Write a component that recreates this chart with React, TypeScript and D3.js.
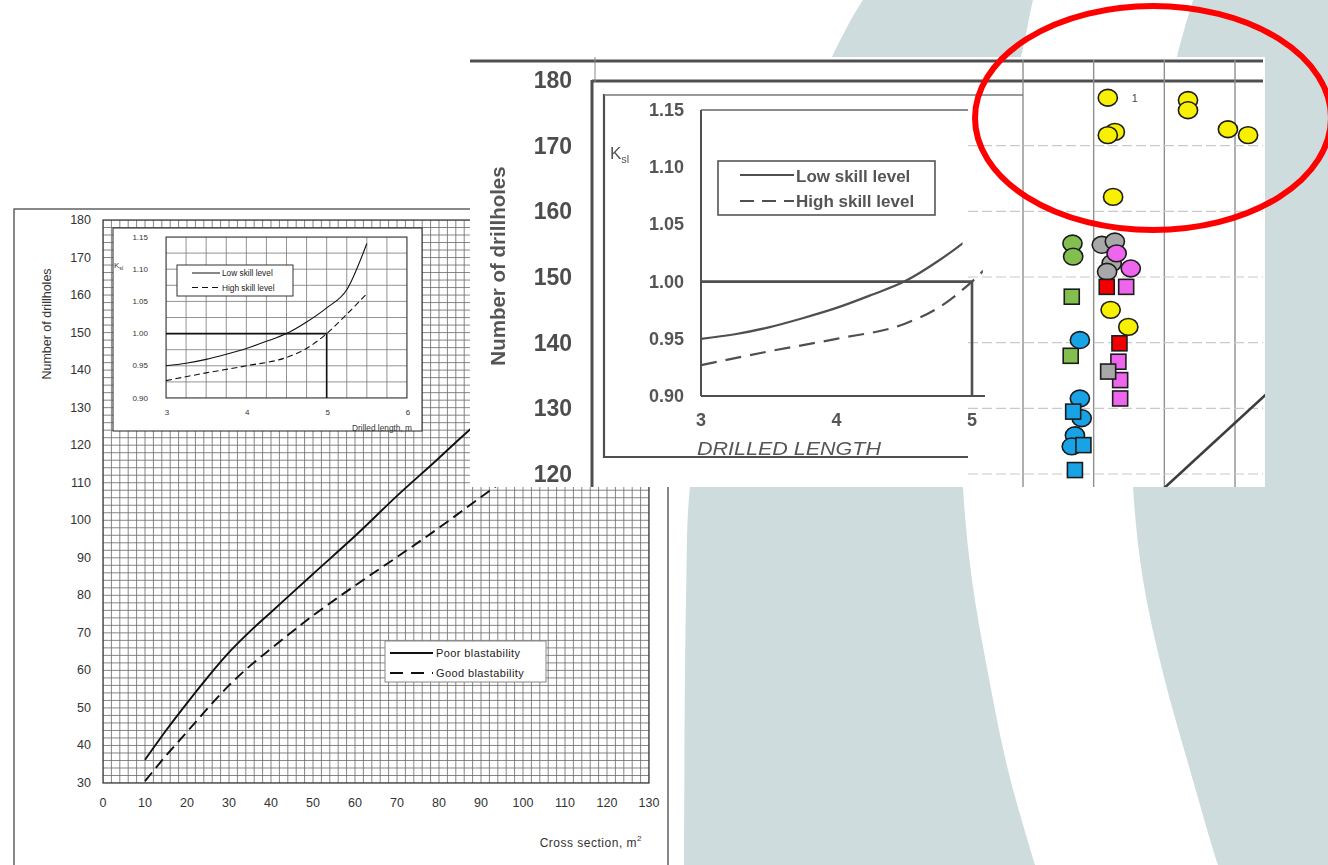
import React from "react";
import * as d3 from "d3";

const W = 1328;
const H = 865;
const FONT = "'Liberation Sans', Arial, Helvetica, sans-serif";
const BG = "#cedcdd";

// ---------- Main chart: number of drillholes vs cross section ----------
const poorX = [10, 15, 20, 25, 30, 35, 40, 50, 60, 70, 80, 85, 90];
const poorY = [36.2, 44, 51.3, 58.3, 64.8, 70.4, 75.5, 85.7, 95.8, 106.5, 116.6, 121.8, 126.8];
const goodX = [10, 15, 20, 25, 30, 35, 40, 50, 60, 70, 80, 90, 95];
const goodY = [30.5, 37.3, 43.6, 50, 56, 61.2, 65.8, 74.6, 82.6, 90.2, 98, 106.2, 110.2];
const mainXTicks = [0, 10, 20, 30, 40, 50, 60, 70, 80, 90, 100, 110, 120, 130];
const mainYTicks = [30, 40, 50, 60, 70, 80, 90, 100, 110, 120, 130, 140, 150, 160, 170, 180];
const mainLegend = ["Poor blastability", "Good blastability"];

// ---------- Inset: Ksl vs drilled length ----------
const lowX = [3, 3.25, 3.5, 3.75, 4, 4.25, 4.5, 4.75, 5, 5.25, 5.5];
const lowY = [0.95, 0.954, 0.96, 0.968, 0.977, 0.988, 1.0, 1.018, 1.04, 1.068, 1.14];
const highX = [3, 3.5, 4, 4.5, 4.75, 5, 5.25, 5.5];
const highY = [0.927, 0.939, 0.95, 0.963, 0.977, 1.0, 1.03, 1.062];
const insetXTicks = [3, 4, 5, 6];
const insetYTicks = [0.9, 0.95, 1.0, 1.05, 1.1, 1.15];
const insetLegend = ["Low skill level", "High skill level"];
const refLength = 5;
const refK = 1.0;

// ---------- Overlay (scanned detail) ----------
const ovYTicks = [120, 130, 140, 150, 160, 170, 180];
const ovXGrid = [70, 80, 90, 100];
const ovYGrid = [120, 130, 140, 150, 160, 170];
const ovInsetXTicks = [3, 4, 5];
const ovLineX = [88, 106];
const ovLineY = [115.9, 133.7];

const yellowCircles: [number, number][] = [
  [82.0, 177.3], [93.35, 176.95], [93.35, 175.4], [83.0, 172.1], [82.0, 171.6],
  [99.0, 172.5], [101.85, 171.6], [82.75, 162.2], [82.4, 145.0], [84.9, 142.4],
];
const greenCircles: [number, number][] = [[77.0, 155.1], [77.1, 153.1]];
const greenSquares: [number, number][] = [[76.9, 147.0], [76.75, 138.0]];
const grayCircles: [number, number][] = [[81.15, 154.9], [83.0, 155.4], [82.55, 152.1], [81.9, 150.8]];
const pinkCircles: [number, number][] = [[83.25, 153.6], [85.25, 151.3]];
const pinkSquares: [number, number][] = [[84.6, 148.5], [83.5, 137.1], [83.75, 134.3], [83.75, 131.5]];
const redSquares: [number, number][] = [[81.85, 148.5], [83.65, 139.9]];
const graySquares: [number, number][] = [[82.05, 135.6]];
const blueCircles: [number, number][] = [[78.05, 140.4], [78.05, 131.5], [78.3, 128.5], [77.35, 125.9], [76.9, 124.2]];
const blueSquares: [number, number][] = [[77.1, 129.5], [78.55, 124.4], [77.35, 120.6]];

// ---------- scales ----------
const xM = d3.scaleLinear().domain([0, 130]).range([103, 649]);
const yM = d3.scaleLinear().domain([30, 180]).range([783, 220]);
const xI = d3.scaleLinear().domain([3, 6]).range([166, 407]);
const yI = d3.scaleLinear().domain([0.9, 1.15]).range([398, 237]);
const xO = d3.scaleLinear().domain([70, 100]).range([1023, 1235]);
const yO = d3.scaleLinear().domain([120, 180]).range([474, 80]);
const xOI = d3.scaleLinear().domain([3, 5]).range([701, 972]);
const yOI = d3.scaleLinear().domain([0.9, 1.15]).range([396, 110]);

function curve(xs: number[], ys: number[], sx: any, sy: any, c: any = d3.curveMonotoneX) {
  return d3
    .line<number>()
    .x((_, i) => sx(xs[i]))
    .y((_, i) => sy(ys[i]))
    .curve(c)(xs) as string;
}

// background decorative bands
const edgeA: [number, number][] = [[872, -10], [863, 0], [832, 57], [790, 160], [738, 290], [704, 410], [690, 487], [686, 600], [684, 875]];
const edgeBandL: [number, number][] = [[1036, -10], [1033, 0], [1021, 57], [990, 170], [968, 300], [962, 410], [963, 487], [972, 580], [988, 673], [1008, 770], [1035, 865], [1038, 875]];
const edgeBandR: [number, number][] = [[1196, -10], [1193, 0], [1177, 57], [1155, 170], [1138, 300], [1132, 410], [1133, 487], [1143, 580], [1163, 673], [1190, 770], [1218, 865], [1222, 875]];
const lg = d3.line().curve(d3.curveCatmullRom.alpha(0.5));
const bgA = (lg(edgeA) as string) + (lg([...edgeBandL].reverse()) as string).replace(/^M/, "L") + "Z";
const bgB = (lg(edgeBandR) as string) + "L1340,875L1340,-10Z";

function Markers({ pts, shape, fill }: { pts: [number, number][]; shape: "c" | "s"; fill: string }) {
  return (
    <g>
      {pts.map((p, i) =>
        shape === "c" ? (
          <ellipse key={i} cx={xO(p[0])} cy={yO(p[1])} rx={9.6} ry={8.4} fill={fill} stroke="#1c1c1c" strokeWidth={1.6} />
        ) : (
          <rect key={i} x={xO(p[0]) - 7.5} y={yO(p[1]) - 7.5} width={15} height={15} fill={fill} stroke="#1c1c1c" strokeWidth={1.6} />
        )
      )}
    </g>
  );
}

export default function App() {
  const gridX = d3.range(0, 130.001, 2);
  const gridY = d3.range(30, 180.001, 2);
  const iGridX = d3.range(3, 6.0001, 0.25);
  const iGridY = d3.range(0.9, 1.15001, 0.025);
  const OV = "#505050";

  return (
    <svg
      width={W}
      height={H}
      viewBox={`0 0 ${W} ${H}`}
      style={{ position: "fixed", left: 0, top: 0, display: "block" }}
      fontFamily={FONT}
    >
      <defs>
        <clipPath id="mainPlot">
          <rect x={103} y={220} width={546} height={563} />
        </clipPath>
        <clipPath id="insetPlot">
          <rect x={166} y={237} width={241} height={161} />
        </clipPath>
        <clipPath id="ovArea">
          <rect x={470} y={57} width={795} height={430} />
        </clipPath>
        <clipPath id="ovSolid">
          <rect x={701} y={100} width={xOI(4.93) - 701} height={300} />
        </clipPath>
        <clipPath id="ovDash">
          <rect x={701} y={100} width={xOI(5.08) - 701} height={300} />
        </clipPath>
        <filter id="scan" x="-5%" y="-5%" width="110%" height="110%">
          <feGaussianBlur stdDeviation="0.55" />
        </filter>
      </defs>

      <rect width={W} height={H} fill="#ffffff" />
      <path d={bgA} fill={BG} />
      <path d={bgB} fill={BG} />

      {/* ================= Left chart ================= */}
      <rect x={14} y={209} width={654} height={700} fill="#fff" stroke="#3a3a3a" strokeWidth={1.2} />
      <g clipPath="url(#mainPlot)">
        {gridX.map((v) => (
          <line key={"gx" + v} x1={xM(v)} x2={xM(v)} y1={220} y2={783} stroke="#6f6f6f" strokeWidth={0.85} />
        ))}
        {gridY.map((v) => (
          <line key={"gy" + v} x1={103} x2={649} y1={yM(v)} y2={yM(v)} stroke="#6f6f6f" strokeWidth={0.85} />
        ))}
        <path d={curve(poorX, poorY, xM, yM)} fill="none" stroke="#111" strokeWidth={1.9} />
        <path d={curve(goodX, goodY, xM, yM)} fill="none" stroke="#111" strokeWidth={1.9} strokeDasharray="11,6" />
      </g>
      <rect x={103} y={220} width={546} height={563} fill="none" stroke="#333" strokeWidth={1.2} />

      {mainYTicks.map((v) => (
        <text key={"my" + v} x={91} y={yM(v)} textAnchor="end" dominantBaseline="central" fontSize={12.5} fill="#333">
          {v}
        </text>
      ))}
      {mainXTicks.map((v) => (
        <text key={"mx" + v} x={xM(v)} y={803} textAnchor="middle" dominantBaseline="central" fontSize={12.5} fill="#333">
          {v}
        </text>
      ))}
      <text transform="translate(47,324) rotate(-90)" textAnchor="middle" dominantBaseline="central" fontSize={12.5} fill="#333">
        Number of drillholes
      </text>
      <text x={642} y={847} textAnchor="end" fontSize={12} fill="#333" letterSpacing={0.5}>
        Cross section, m<tspan fontSize={8} dy={-6}>2</tspan>
      </text>

      {/* main legend */}
      <rect x={385} y={641} width={161} height={41} fill="#fff" stroke="#888" strokeWidth={1} />
      <line x1={390} x2={433} y1={653} y2={653} stroke="#111" strokeWidth={1.9} />
      <line x1={390} x2={433} y1={673} y2={673} stroke="#111" strokeWidth={1.9} strokeDasharray="13,8" />
      {mainLegend.map((t, i) => (
        <text key={t} x={436} y={653 + i * 20} dominantBaseline="central" fontSize={11} fill="#222" letterSpacing={0.4}>
          {t}
        </text>
      ))}

      {/* inset */}
      <rect x={113} y={228} width={309} height={203} fill="#fff" stroke="#222" strokeWidth={1} />
      <g clipPath="url(#insetPlot)">
        {iGridX.map((v, i) => (
          <line key={"igx" + i} x1={xI(v)} x2={xI(v)} y1={237} y2={398} stroke="#777" strokeWidth={0.8} />
        ))}
        {iGridY.map((v, i) => (
          <line key={"igy" + i} x1={166} x2={407} y1={yI(v)} y2={yI(v)} stroke="#777" strokeWidth={0.8} />
        ))}
      </g>
      <rect x={166} y={237} width={241} height={161} fill="none" stroke="#333" strokeWidth={1} />
      <path
        d={`M${xI(3)},${yI(refK)}H${xI(refLength)}V${yI(0.9)}`}
        fill="none"
        stroke="#111"
        strokeWidth={1.6}
      />
      <path d={curve(lowX, lowY, xI, yI)} fill="none" stroke="#111" strokeWidth={1.1} />
      <path d={curve(highX, highY, xI, yI)} fill="none" stroke="#111" strokeWidth={1.1} strokeDasharray="6,3.5" />
      {insetYTicks.map((v) => (
        <text key={"iy" + v} x={148} y={yI(v)} textAnchor="end" dominantBaseline="central" fontSize={8} fill="#333">
          {d3.format(".2f")(v)}
        </text>
      ))}
      {insetXTicks.map((v) => (
        <text key={"ix" + v} x={xI(v) + 1} y={412} textAnchor="middle" dominantBaseline="central" fontSize={8} fill="#333">
          {v}
        </text>
      ))}
      <text x={114} y={268} fontSize={8} fill="#333">
        K<tspan fontSize={5.5} dy={2}>sl</tspan>
      </text>
      <text x={412} y={428} textAnchor="end" dominantBaseline="central" fontSize={8.3} fill="#333">
        Drilled length, m
      </text>
      <rect x={177} y={265} width={116} height={31} fill="#fff" stroke="#333" strokeWidth={1} />
      <line x1={192} x2={220} y1={273} y2={273} stroke="#111" strokeWidth={1} />
      <line x1={192} x2={220} y1={287.5} y2={287.5} stroke="#111" strokeWidth={1} strokeDasharray="6,4" />
      {insetLegend.map((t, i) => (
        <text key={t} x={222} y={273 + i * 14.5} dominantBaseline="central" fontSize={8.3} fill="#222">
          {t}
        </text>
      ))}

      {/* ================= Overlay (scan detail) ================= */}
      <rect x={470} y={57} width={795} height={430} fill="#fff" />
      <g clipPath="url(#ovArea)">
        <g filter="url(#scan)">
          {/* frame lines */}
          <line x1={470} x2={1263} y1={61} y2={61} stroke={OV} strokeWidth={3} />
          <line x1={592} x2={1263} y1={81} y2={81} stroke={OV} strokeWidth={3} />
          <line x1={592} x2={592} y1={80} y2={487} stroke={OV} strokeWidth={3} />
          <line x1={595} x2={595} y1={57} y2={82} stroke="#888" strokeWidth={1} />
          {ovXGrid.map((v) => (
            <line key={"ogx" + v} x1={xO(v)} x2={xO(v)} y1={60} y2={487} stroke="#8f8f8f" strokeWidth={1.4} />
          ))}
          {ovYGrid.map((v) => (
            <line key={"ogy" + v} x1={968} x2={1263} y1={yO(v)} y2={yO(v)} stroke="#c9c9c9" strokeWidth={1.2} strokeDasharray="10,4" />
          ))}
          {/* inset box */}
          <line x1={604} x2={604} y1={94} y2={458} stroke={OV} strokeWidth={2.2} />
          <line x1={604} x2={1023} y1={95} y2={95} stroke="#777" strokeWidth={1.3} />
          <line x1={603} x2={968} y1={457} y2={457} stroke={OV} strokeWidth={2} />
          {/* inset plot */}
          <line x1={701} x2={701} y1={110} y2={396} stroke={OV} strokeWidth={2} />
          <line x1={701} x2={968} y1={110} y2={110} stroke="#666" strokeWidth={1.5} />
          <line x1={701} x2={985} y1={396} y2={396} stroke={OV} strokeWidth={2} />
          <path
            d={`M${xOI(3)},${yOI(refK)}H${xOI(refLength)}V${yOI(0.9)}`}
            fill="none"
            stroke={OV}
            strokeWidth={2.6}
          />
          <path d={curve(lowX, lowY, xOI, yOI)} clipPath="url(#ovSolid)" fill="none" stroke={OV} strokeWidth={2.2} />
          <path d={curve(highX, highY, xOI, yOI)} clipPath="url(#ovDash)" fill="none" stroke={OV} strokeWidth={2.2} strokeDasharray="16,9" />
          {insetYTicks.map((v) => (
            <text key={"oiy" + v} x={684} y={yOI(v)} textAnchor="end" dominantBaseline="central" fontSize={18} fontWeight="bold" fill="#555">
              {d3.format(".2f")(v)}
            </text>
          ))}
          {ovInsetXTicks.map((v) => (
            <text key={"oix" + v} x={xOI(v)} y={420} textAnchor="middle" dominantBaseline="central" fontSize={18} fontWeight="bold" fill="#555">
              {v}
            </text>
          ))}
          <text x={610} y={159} fontSize={17} fill="#555">
            K<tspan fontSize={11} dy={4}>sl</tspan>
          </text>
          <text x={697} y={455} fontSize={19} fontStyle="italic" fill="#555" textLength={184} lengthAdjust="spacingAndGlyphs">
            DRILLED LENGTH
          </text>
          {/* legend */}
          <rect x={718} y={161} width={217} height={54} fill="#fff" stroke="#555" strokeWidth={1.6} />
          <line x1={740} x2={794} y1={175} y2={175} stroke={OV} strokeWidth={2.2} />
          <line x1={740} x2={794} y1={201} y2={201} stroke={OV} strokeWidth={2.2} strokeDasharray="14,8" />
          {insetLegend.map((t, i) => (
            <text key={"ol" + t} x={796} y={176 + i * 25} dominantBaseline="central" fontSize={17} fontWeight="bold" fill="#555">
              {t}
            </text>
          ))}
          {/* main y axis of overlay */}
          {ovYTicks.map((v) => (
            <text key={"oy" + v} x={572} y={yO(v)} textAnchor="end" dominantBaseline="central" fontSize={23} fontWeight="bold" fill="#4e4e4e">
              {v}
            </text>
          ))}
          <text transform="translate(497,266) rotate(-90)" textAnchor="middle" dominantBaseline="central" fontSize={20.5} fontWeight="bold" fill="#555">
            Number of drillholes
          </text>
          <path d={curve(ovLineX, ovLineY, xO, yO, d3.curveLinear)} fill="none" stroke="#3c3c3c" strokeWidth={2.6} />
          <text x={xO(yellowCircles[0][0]) + 24} y={yO(yellowCircles[0][1])} dominantBaseline="central" fontSize={11} fill="#444">
            1
          </text>
        </g>
        {/* data markers */}
        <Markers pts={greenCircles} shape="c" fill="#82bf4f" />
        <Markers pts={greenSquares} shape="s" fill="#82bf4f" />
        <Markers pts={grayCircles} shape="c" fill="#a8a8a8" />
        <Markers pts={blueCircles} shape="c" fill="#18a3e6" />
        <Markers pts={blueSquares} shape="s" fill="#18a3e6" />
        <Markers pts={pinkCircles} shape="c" fill="#ee66ee" />
        <Markers pts={pinkSquares} shape="s" fill="#ee66ee" />
        <Markers pts={redSquares} shape="s" fill="#f00000" />
        <Markers pts={graySquares} shape="s" fill="#a8a8a8" />
        <Markers pts={yellowCircles} shape="c" fill="#f7f000" />
      </g>

      {/* red highlight ellipse */}
      <ellipse cx={1153} cy={118} rx={178} ry={112} fill="none" stroke="#ff0000" strokeWidth={6} />
    </svg>
  );
}
